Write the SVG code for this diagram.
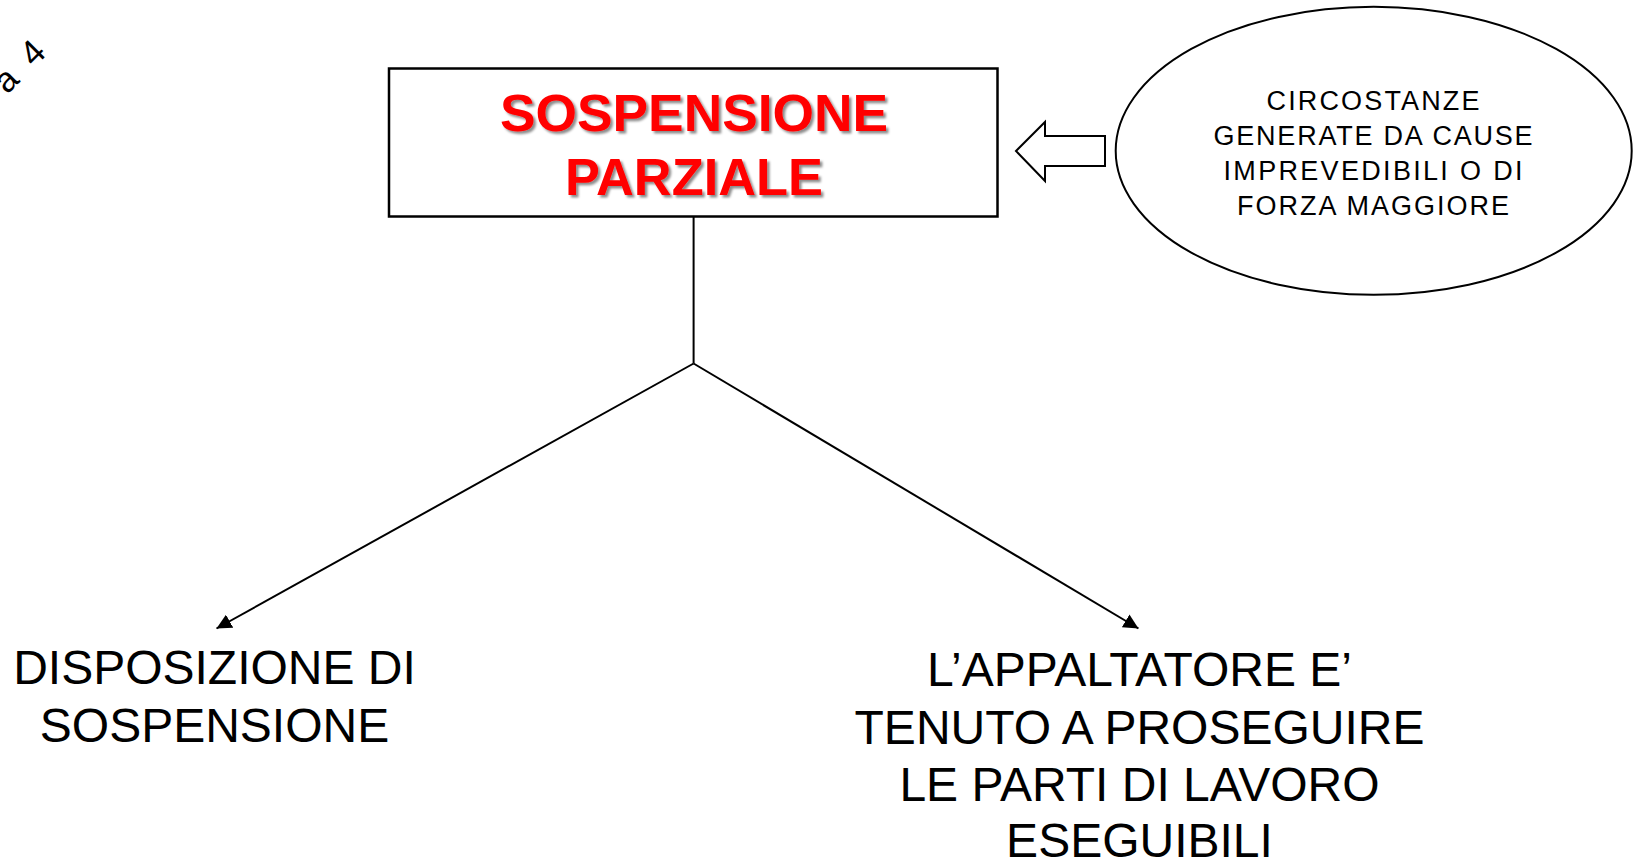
<svg xmlns="http://www.w3.org/2000/svg" width="1638" height="860" viewBox="0 0 1638 860">
<style>
.title{font-family:"Liberation Sans",Arial,sans-serif;font-weight:bold;font-size:52px;fill:#ff0000;text-anchor:middle;filter:url(#sh)}
.ell{font-family:"Liberation Sans",Arial,sans-serif;font-size:27px;fill:#000;text-anchor:middle}
.big{font-family:"Liberation Sans",Arial,sans-serif;font-size:48px;fill:#000;text-anchor:middle}
.conn{stroke:#000;stroke-width:2;fill:none}
</style>
<defs>
<filter id="sh" x="-5%" y="-20%" width="115%" height="150%">
<feDropShadow dx="2.5" dy="2.5" stdDeviation="1.2" flood-color="#000" flood-opacity="0.45"/>
</filter>
<marker id="ah" viewBox="0 0 10 10" refX="10" refY="5" markerWidth="7.5" markerHeight="7.5" orient="auto" markerUnits="strokeWidth">
<path d="M0,0 L10,5 L0,10 z" fill="#000"/>
</marker>
</defs>
<rect width="1638" height="860" fill="#fff"/>
<text x="7" y="95" transform="rotate(-45 7 95)" font-family="Liberation Sans,Arial,sans-serif" font-size="35" word-spacing="9" fill="#000">a 4</text>
<g id="connectors">
<polyline class="conn" points="693.6,217 693.6,363.5"/>
<line class="conn" x1="693.6" y1="363.5" x2="216.5" y2="628.5" marker-end="url(#ah)"/>
<line class="conn" x1="693.6" y1="363.5" x2="1138.5" y2="628.5" marker-end="url(#ah)"/>
<path d="M1016,151 L1045,122 L1045,136 L1105,136 L1105,166 L1045,166 L1045,181 Z" fill="#fff" stroke="#000" stroke-width="2"/>
</g>
<g id="node-title">
<rect x="389" y="68.5" width="608.5" height="148" fill="#fff" stroke="#000" stroke-width="2.5"/>
<text class="title" x="694" y="131" textLength="388" lengthAdjust="spacingAndGlyphs">SOSPENSIONE</text>
<text class="title" x="694" y="195" textLength="258" lengthAdjust="spacingAndGlyphs">PARZIALE</text>
</g>
<g id="node-cause">
<ellipse cx="1373.7" cy="150.8" rx="258" ry="144" fill="#fff" stroke="#000" stroke-width="2"/>
<text class="ell" x="1373" y="110" textLength="213" lengthAdjust="spacing">CIRCOSTANZE</text>
<text class="ell" x="1373" y="145" textLength="319" lengthAdjust="spacing">GENERATE DA CAUSE</text>
<text class="ell" x="1373" y="180" textLength="299" lengthAdjust="spacing">IMPREVEDIBILI O DI</text>
<text class="ell" x="1373" y="215" textLength="272" lengthAdjust="spacing">FORZA MAGGIORE</text>
</g>
<g id="node-left">
<text class="big" x="214.5" y="683.5">DISPOSIZIONE DI</text>
<text class="big" x="214.5" y="741.5">SOSPENSIONE</text>
</g>
<g id="node-right">
<text class="big" x="1139.5" y="686">L’APPALTATORE E’</text>
<text class="big" x="1139.5" y="743.5">TENUTO A PROSEGUIRE</text>
<text class="big" x="1139.5" y="801">LE PARTI DI LAVORO</text>
<text class="big" x="1139.5" y="856.5">ESEGUIBILI</text>
</g>
</svg>
